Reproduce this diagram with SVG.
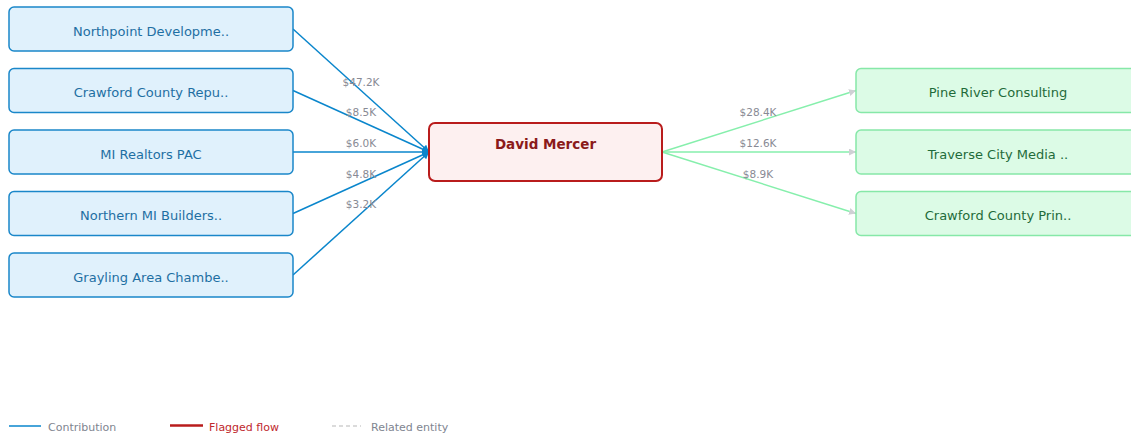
<svg xmlns="http://www.w3.org/2000/svg" width="1131" height="439" viewBox="0 0 1131 439">
<style>
text{font-family:"DejaVu Sans",Verdana,sans-serif}
.src rect{fill:#e0f1fc;stroke:#1a87c9;stroke-width:1.5}
.src text{fill:#1e6fa3;font-size:13px;text-anchor:middle}
.dst rect{fill:#dcfbe6;stroke:#86e8a8;stroke-width:1.5}
.dst text{fill:#1f6b3a;font-size:13px;text-anchor:middle}
.in{stroke:#0a86cc;stroke-width:1.5;fill:none}
.out{stroke:#86efac;stroke-width:1.5;fill:none}
.lbl{fill:#888a94;font-size:10.5px;text-anchor:middle}
.leg{font-size:11px}
</style>
<defs>
<marker id="ab" viewBox="0 0 10 10" refX="10" refY="5" markerWidth="7" markerHeight="7" orient="auto" markerUnits="userSpaceOnUse"><path d="M0,0L10,5L0,10z" fill="#0a86cc"/></marker>
<marker id="ag" viewBox="0 0 10 10" refX="10" refY="5" markerWidth="7" markerHeight="7" orient="auto" markerUnits="userSpaceOnUse"><path d="M0,0L10,5L0,10z" fill="#cfd0d4"/></marker>
</defs>
<g id="connectors">
<line class="in" x1="293" y1="29" x2="429" y2="152" marker-end="url(#ab)"/>
<line class="in" x1="293" y1="90.5" x2="429" y2="152" marker-end="url(#ab)"/>
<line class="in" x1="293" y1="152" x2="429" y2="152" marker-end="url(#ab)"/>
<line class="in" x1="293" y1="213.5" x2="429" y2="152" marker-end="url(#ab)"/>
<line class="in" x1="293" y1="275" x2="429" y2="152" marker-end="url(#ab)"/>
<line class="out" x1="662" y1="152" x2="856" y2="90.5" marker-end="url(#ag)"/>
<line class="out" x1="662" y1="152" x2="856" y2="152" marker-end="url(#ag)"/>
<line class="out" x1="662" y1="152" x2="856" y2="213.5" marker-end="url(#ag)"/>
<text class="lbl" x="361" y="86">$47.2K</text>
<text class="lbl" x="361" y="116">$8.5K</text>
<text class="lbl" x="361" y="147">$6.0K</text>
<text class="lbl" x="361" y="178">$4.8K</text>
<text class="lbl" x="361" y="208">$3.2K</text>
<text class="lbl" x="758" y="116">$28.4K</text>
<text class="lbl" x="758" y="147">$12.6K</text>
<text class="lbl" x="758" y="178">$8.9K</text>
</g>
<g id="n1" class="src"><rect x="9" y="7" width="284" height="44" rx="5"/><text x="151" y="35.5">Northpoint Developme..</text></g>
<g id="n2" class="src"><rect x="9" y="68.5" width="284" height="44" rx="5"/><text x="151" y="97">Crawford County Repu..</text></g>
<g id="n3" class="src"><rect x="9" y="130" width="284" height="44" rx="5"/><text x="151" y="158.5">MI Realtors PAC</text></g>
<g id="n4" class="src"><rect x="9" y="191.5" width="284" height="44" rx="5"/><text x="151" y="220">Northern MI Builders..</text></g>
<g id="n5" class="src"><rect x="9" y="253" width="284" height="44" rx="5"/><text x="151" y="281.5">Grayling Area Chambe..</text></g>
<g id="center"><rect x="429" y="123" width="233" height="58" rx="6" fill="#fdf0f0" stroke="#b91c1c" stroke-width="2"/><text x="545.5" y="149" font-size="13.5" font-weight="bold" fill="#8b1a1a" text-anchor="middle">David Mercer</text></g>
<g id="d1" class="dst"><rect x="856" y="68.5" width="284" height="44" rx="5"/><text x="998" y="97">Pine River Consulting</text></g>
<g id="d2" class="dst"><rect x="856" y="130" width="284" height="44" rx="5"/><text x="998" y="158.5">Traverse City Media ..</text></g>
<g id="d3" class="dst"><rect x="856" y="191.5" width="284" height="44" rx="5"/><text x="998" y="220">Crawford County Prin..</text></g>
<g id="legend">
<line x1="9" y1="426" x2="41" y2="426" stroke="#0a86cc" stroke-width="1.5"/>
<text class="leg" x="48" y="431" fill="#808590">Contribution</text>
<line x1="170" y1="425.5" x2="203" y2="425.5" stroke="#b91c1c" stroke-width="2.5"/>
<text class="leg" x="209" y="431" fill="#c0282d">Flagged flow</text>
<line x1="332" y1="426" x2="361" y2="426" stroke="#d0d0d0" stroke-width="1.5" stroke-dasharray="4,3"/>
<text class="leg" x="371" y="431" fill="#808590">Related entity</text>
</g>
</svg>
